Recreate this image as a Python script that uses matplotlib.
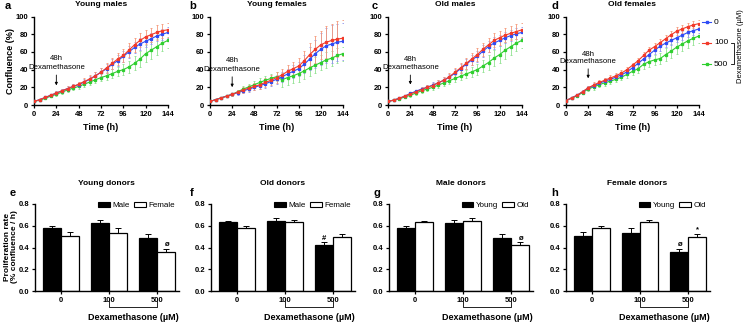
import matplotlib
matplotlib.use('Agg')
import matplotlib.pyplot as plt
from matplotlib.patches import Patch
import matplotlib.transforms as mtrans

plt.rcParams['font.family'] = ['Liberation Sans', 'DejaVu Sans']

# ---------------- data ----------------
time_h = [0, 6, 12, 18, 24, 30, 36, 42, 48, 54, 60, 66, 72, 78, 84, 90, 96,
          102, 108, 114, 120, 126, 132, 138, 144]
doses = ['0', '100', '500']

# Young males
a_0 = [4, 6, 8.5, 11, 13.5, 16, 18.5, 21, 23, 26, 29, 33, 37, 41, 46, 50, 55, 60, 65, 69, 72, 75, 78, 80, 82]
a_100 = [4, 6, 8.5, 11, 13.5, 16, 18.5, 21, 23.5, 26.5, 29.5, 33, 37, 42, 47, 52, 56, 62, 68, 73, 77, 79.5, 82, 84, 85]
a_500 = [4, 5.5, 7.5, 10, 12, 14.5, 17, 19, 21, 23.5, 26, 28.5, 31, 33, 35.5, 38, 40, 43, 47, 52, 58, 62, 66, 70, 73]
a_0_err = [0.5, 0.8, 1, 1.5, 2, 2, 2.5, 2.5, 3, 3, 3.5, 4, 4.5, 5, 5.5, 6, 6, 6.5, 6.5, 6.5, 6.5, 6.5, 6, 6, 6]
a_100_err = [0.5, 0.8, 1, 1.5, 2, 2.5, 2.5, 3, 3, 3.5, 4, 4.5, 5, 5.5, 6, 6.5, 7, 7.5, 8, 8, 8, 8, 8, 8, 8]
a_500_err = [0.5, 0.8, 1, 1.5, 2, 2, 2.5, 2.5, 3, 3, 3.5, 3.5, 4, 4.5, 5, 5.5, 6, 7, 8, 9, 9.5, 9.5, 9, 9, 9]

# Young females
b_0 = [4, 6, 8, 10, 12, 14, 16, 18, 20, 22, 24, 26.5, 29, 32, 35, 38, 41, 46, 52, 58, 63, 67, 69, 71, 72]
b_100 = [4, 6, 8, 10, 12, 14.5, 17, 19, 21, 23, 25.5, 28, 31, 34, 38, 41, 44, 50, 57, 63, 68, 71, 73, 74.5, 75.5]
b_500 = [4, 6, 8, 10, 12, 15, 18, 20.5, 23, 25.5, 28, 30, 32, 28.5, 31, 33, 35.5, 38.5, 42, 45, 48, 51, 53, 56, 58]
b_0_err = [0.5, 0.8, 1, 1.5, 2, 2.5, 3, 3, 3.5, 4, 4.5, 5, 5, 5.5, 6, 7, 8, 10, 13, 16, 18, 20, 21, 21, 21]
b_100_err = [0.5, 0.8, 1, 1.5, 2, 2.5, 3, 3.5, 4, 4.5, 5, 5.5, 6, 6.5, 7, 8, 9, 11, 13, 15, 16, 18, 19, 20, 20]
b_500_err = [0.5, 0.8, 1, 1.5, 2, 2.5, 3, 3.5, 4, 4.5, 5, 5, 5, 8, 8, 8.5, 9, 9, 9, 9, 9, 9, 8.5, 8, 8]

# Old males
c_0 = [4, 5.5, 7.5, 10, 13, 15.5, 18, 20, 22.5, 25, 28, 31.5, 36, 41, 46, 51, 55, 61, 66, 70, 73, 76, 78.5, 80.5, 82]
c_100 = [4, 5.5, 7.5, 10, 12.5, 15, 17.5, 20, 22, 25, 28, 32, 37, 42, 47, 52, 57, 63, 68, 73, 76, 79, 81, 83, 85]
c_500 = [4, 5.5, 7, 9, 11, 13.5, 16, 18, 20, 22.5, 25, 27.5, 30, 32.5, 35, 37.5, 40, 44, 48, 53, 57, 62, 66, 70, 73]
c_0_err = [0.5, 0.8, 1, 1.5, 2, 2, 2.5, 2.5, 3, 3, 3.5, 4, 4.5, 5, 5.5, 6, 6, 6.5, 6.5, 6.5, 6.5, 6.5, 6, 6, 6]
c_100_err = [0.5, 0.8, 1, 1.5, 2, 2.5, 2.5, 3, 3, 3.5, 4, 4.5, 5, 5.5, 6, 6.5, 7, 7.5, 8, 8, 8, 8, 8, 8, 8]
c_500_err = [0.5, 0.8, 1, 1.5, 2, 2, 2.5, 2.5, 3, 3, 3.5, 3.5, 4, 4.5, 5, 5.5, 6, 7, 8, 9, 9.5, 9.5, 9, 9, 9]

# Old females
d_0 = [5, 8, 11, 15, 19, 22, 24.5, 27, 29, 31.5, 34, 37.5, 42, 47, 52, 57, 62, 66.5, 70, 73, 76, 79, 82, 84, 86]
d_100 = [5, 8, 11, 15, 19.5, 22.5, 25.5, 28, 30.5, 33, 36, 40, 45, 50, 56, 62, 66, 70.5, 75, 79.5, 83.5, 86, 88.5, 90.5, 92]
d_500 = [5, 7.5, 10.5, 14, 18, 20.5, 23, 25, 27, 29, 31.5, 34.5, 38, 41, 46, 49, 51, 52.5, 57, 61, 65.5, 69, 72.5, 75.5, 78]
d_0_err = [0.5, 1, 1.5, 2, 2.5, 3, 3, 3, 3, 3, 3, 3, 3, 3.5, 4, 4, 4.5, 5, 5, 5, 5, 5, 5, 5, 5]
d_100_err = [0.5, 1, 1.5, 2, 2.5, 3, 3, 3, 3, 3, 3, 3, 3, 3.5, 4, 4, 4.5, 4.5, 4.5, 4.5, 4.5, 4.5, 4, 4, 4]
d_500_err = [0.5, 1, 1.5, 2, 2.5, 3, 3, 3, 3, 3, 3, 3.5, 4, 4.5, 5, 5.5, 6, 6.5, 7, 7.5, 8, 8, 8, 8, 8]

# Proliferation rates (% confluence / h)
young_male = [0.58, 0.625, 0.49]
young_male_err = [0.02, 0.03, 0.03]
young_female = [0.505, 0.535, 0.355]
young_female_err = [0.04, 0.04, 0.035]
old_male = [0.63, 0.64, 0.42]
old_male_err = [0.018, 0.03, 0.027]
old_female = [0.575, 0.635, 0.50]
old_female_err = [0.022, 0.015, 0.025]

# ---------------- style ----------------
W, H = 746, 322
fig = plt.figure(figsize=(W / 100, H / 100), dpi=100)

C_BLUE, C_RED, C_GREEN = '#2f4cf5', '#f23a2a', '#2fcf2f'
E_BLUE, E_RED, E_GREEN = '#8f95ec', '#f59878', '#8fe28f'
TICK_FS = 5.5


def px_axes(x0, x1, ytop, ybot):
    return fig.add_axes([x0 / W, (H - ybot) / H, (x1 - x0) / W, (ybot - ytop) / H])


def style_axes(ax):
    for s in ['top', 'right']:
        ax.spines[s].set_visible(False)
    for s in ['left', 'bottom']:
        ax.spines[s].set_linewidth(1.0)
    ax.tick_params(length=2.5, width=0.9, pad=1.5, labelsize=TICK_FS)
    for lab in ax.get_xticklabels() + ax.get_yticklabels():
        lab.set_fontweight('bold')


# ---------------- top row: growth curves ----------------
top_panels = [
    ('a', 'Young males', (34, 168), 5, (a_0, a_0_err), (a_100, a_100_err), (a_500, a_500_err), (52.5, 42.5, 37, 19)),
    ('b', 'Young females', (210, 343), 189, (b_0, b_0_err), (b_100, b_100_err), (b_500, b_500_err), (50.5, 40.5, 35, 17)),
    ('c', 'Old males', (388, 522), 372, (c_0, c_0_err), (c_100, c_100_err), (c_500, c_500_err), (51.5, 42.5, 37, 20)),
    ('d', 'Old females', (566, 699), 552, (d_0, d_0_err), (d_100, d_100_err), (d_500, d_500_err), (57, 49, 44, 27)),
]

for letter, title, (x0, x1), lx, s0, s100, s500, ann in top_panels:
    ax = px_axes(x0, x1, 16.5, 105)
    for (vals, errs), col, ecol in [(s500, C_GREEN, E_GREEN), (s0, C_BLUE, E_BLUE), (s100, C_RED, E_RED)]:
        ax.errorbar(time_h, vals, yerr=errs, color=col, ecolor=ecol, elinewidth=0.6,
                    capsize=1.0, capthick=0.6, lw=0.8, marker='s', ms=1.4, zorder=3)
    ax.set_xlim(0, 144)
    ax.set_ylim(0, 100)
    ax.set_xticks([0, 24, 48, 72, 96, 120, 144])
    ax.set_yticks([0, 20, 40, 60, 80, 100])
    style_axes(ax)
    y48, ydex, ystart, ytip = ann
    ax.text(24, y48, '48h', ha='center', va='center', fontsize=5.6)
    ax.text(24, ydex, 'Dexamethasone', ha='center', va='center', fontsize=5.6)
    ax.annotate('', xy=(24, ytip), xytext=(24, ystart),
                arrowprops=dict(arrowstyle='-|>', lw=0.6, color='black', mutation_scale=4))
    ax.text(0.5, 1.13, title, transform=ax.transAxes, ha='center', va='center',
            fontsize=6, fontweight='bold')
    ax.text(0.5, -0.25, 'Time (h)', transform=ax.transAxes, ha='center', va='center',
            fontsize=6.5, fontweight='bold')
    fig.text(lx / W, 1 - 6 / H, letter, ha='left', va='center', fontsize=8, fontweight='bold')

fig.text(11 / W, 1 - 61 / H, 'Confluence (%)', rotation=90, ha='center', va='center',
         fontsize=6.5, fontweight='bold')

# legend for dose (right of panel d)
for y, col, lab in [(22, C_BLUE, doses[0]), (43, C_RED, doses[1]), (64, C_GREEN, doses[2])]:
    fy = 1 - y / H
    fig.add_artist(plt.Line2D([702 / W, 711 / W], [fy, fy], color=col, lw=0.8))
    fig.add_artist(plt.Line2D([706.5 / W], [fy], color=col, marker='s', ms=1.6))
    fig.text(714 / W, fy, lab, ha='left', va='center', fontsize=6)
bx = 734
fig.add_artist(plt.Line2D([731 / W, bx / W, bx / W, 731 / W],
                          [1 - 43 / H, 1 - 43 / H, 1 - 64 / H, 1 - 64 / H], color='black', lw=0.6))
fig.text(741 / W, 1 - 46 / H, 'Dexamethasone (µM)', rotation=90, ha='center', va='center',
         fontsize=5.5)

# ---------------- bottom row: proliferation rates ----------------
bottom_panels = [
    ('e', 'Young donors', 61, 10, ('Male', 'Female'),
     (young_male, young_male_err), (young_female, young_female_err), [(1, 2, 'ø')]),
    ('f', 'Old donors', 237, 190, ('Male', 'Female'),
     (old_male, old_male_err), (old_female, old_female_err), [(0, 2, '#')]),
    ('g', 'Male donors', 415, 373, ('Young', 'Old'),
     (young_male, young_male_err), (old_male, old_male_err), [(1, 2, 'ø')]),
    ('h', 'Female donors', 592, 551, ('Young', 'Old'),
     (young_female, young_female_err), (old_female, old_female_err), [(0, 2, 'ø'), (1, 2, '*')]),
]

BW = 0.38
SP = 48.0
XL, XR = -0.55, 2.45
xpos = [0, 1, 2]

for letter, title, g0, lx, labels, (m1, e1), (m2, e2), marks in bottom_panels:
    ax = px_axes(g0 + XL * SP, g0 + XR * SP, 204, 291)
    series = [(m1, e1, 'black'), (m2, e2, 'white')]
    for k, (m, e, fc) in enumerate(series):
        xs = [x + (k - 0.5) * BW for x in xpos]
        ax.bar(xs, m, width=BW, color=fc, edgecolor='black', linewidth=0.9, zorder=2)
        ax.errorbar(xs, m, yerr=[[0] * len(e), e], fmt='none', ecolor='black',
                    elinewidth=0.7, capsize=2.2, capthick=0.7, zorder=1)
    for k, idx, sym in marks:
        m, e = (m1, e1) if k == 0 else (m2, e2)
        ax.text(idx + (k - 0.5) * BW, m[idx] + e[idx] + 0.035, sym, ha='center', va='center',
                fontsize=5.5, fontweight='bold')
    ax.set_xlim(XL, XR)
    ax.set_ylim(0, 0.8)
    ax.set_xticks(xpos)
    ax.set_xticklabels(doses)
    ax.set_yticks([0, 0.2, 0.4, 0.6, 0.8])
    ax.set_yticklabels(['0.0', '0.2', '0.4', '0.6', '0.8'])
    style_axes(ax)
    trans = mtrans.blended_transform_factory(ax.transData, ax.transAxes)
    ax.plot([1, 1, 2, 2], [-0.11, -0.185, -0.185, -0.11], color='black', lw=0.6,
            transform=trans, clip_on=False)
    ax.text(1.5, -0.30, 'Dexamethasone (µM)', transform=trans, ha='center', va='center',
            fontsize=6.5, fontweight='bold')
    ax.text(0.5, 1.24, title, transform=ax.transAxes, ha='center', va='center',
            fontsize=6, fontweight='bold')
    ax.legend(handles=[Patch(facecolor='black', edgecolor='black', linewidth=0.8),
                       Patch(facecolor='white', edgecolor='black', linewidth=0.8)],
              labels=list(labels), ncol=2, loc='upper right', bbox_to_anchor=(1.0, 1.06),
              frameon=False, fontsize=5.8, handlelength=1.4, handleheight=0.6,
              columnspacing=0.5, handletextpad=0.4, borderaxespad=0.0)
    fig.text(lx / W, 1 - 193 / H, letter, ha='left', va='center', fontsize=8, fontweight='bold')

fig.text(11 / W, 1 - 247 / H, 'Proliferation rate\n(% confluence / h)', rotation=90,
         ha='center', va='center', fontsize=6, fontweight='bold', linespacing=1.1)

fig.savefig('out.png', dpi=100)
